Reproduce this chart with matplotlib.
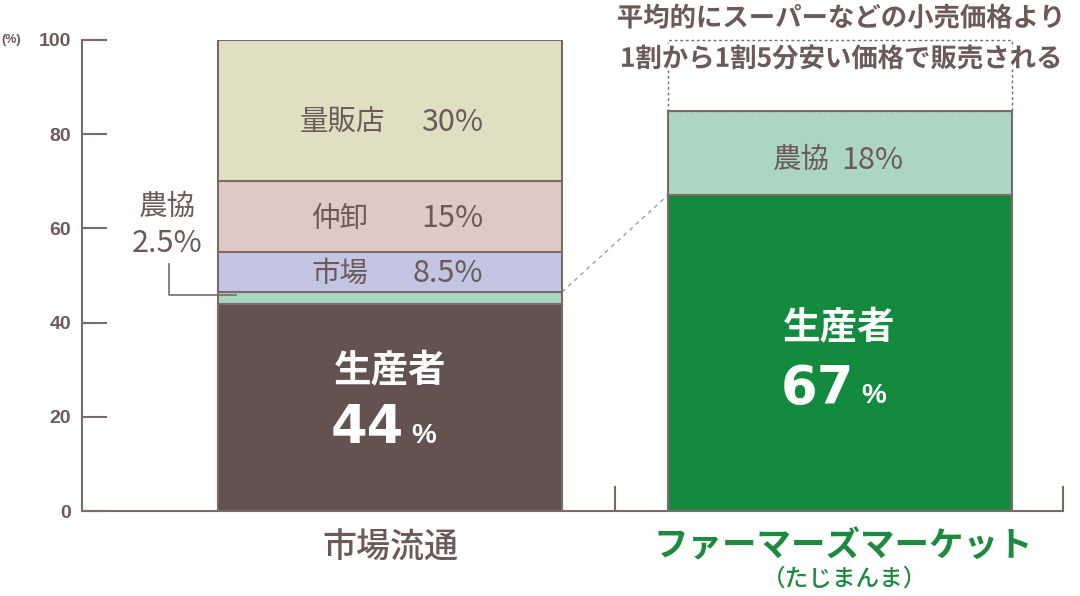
import matplotlib
matplotlib.use("Agg")
import matplotlib.pyplot as plt
import matplotlib.patheffects as pe
from matplotlib.patches import Rectangle

plt.rcParams['font.family'] = ['Noto Sans CJK JP', 'DejaVu Sans']

# ---- data ----
categories = ['市場流通', 'ファーマーズマーケット']
sub_label = '（たじまんま）'
left_names = ['生産者', '農協', '市場', '仲卸', '量販店']
left_values = [44, 2.5, 8.5, 15, 30]
right_names = ['生産者', '農協']
right_values = [67, 18]
yticks = [0, 20, 40, 60, 80, 100]
note_text = '平均的にスーパーなどの小売価格より\n1割から1割5分安い価格で販売される'

# ---- styles ----
TXT = '#6b5a58'
EDGE = '#7a6a68'
left_colors = ['#63524f', '#a8d5bf', '#c3c5e3', '#dfcac3', '#dfdfc4']
right_colors = ['#138a3e', '#acd6c1']
GREEN_TXT = '#1e8a40'
LAT = ['Liberation Sans', 'DejaVu Sans']

W, H = 1080, 596
fig = plt.figure(figsize=(W / 100, H / 100), dpi=100)
ax = fig.add_axes([82 / W, 85 / H, (1063 - 82) / W, (511 - 40) / H])
ax.set_ylim(0, 100)
xl = (-0.685, 1.497)
ax.set_xlim(*xl)
width = 0.765
xpos = [0, 1]


def stack(x, vals, cols):
    bottom = 0
    bars = []
    for v, c in zip(vals, cols):
        ax.bar(x, v, width, bottom=bottom, color=c, edgecolor=EDGE,
               linewidth=1.5, zorder=2)
        bars.append((bottom, v))
        bottom += v
    return bars


lb = stack(xpos[0], left_values, left_colors)
rb = stack(xpos[1], right_values, right_colors)

# dotted box for price-difference area on the right bar
top_r = sum(right_values)
ax.add_patch(Rectangle((xpos[1] - width / 2, top_r), width, 100 - top_r,
                       fill=False, edgecolor=EDGE, linestyle=(0, (2, 2)),
                       linewidth=1.0, zorder=3, clip_on=False))

# dashed connector from left farmer+JA top to right farmer top
ax.plot([xpos[0] + width / 2, xpos[1] - width / 2],
        [left_values[0] + left_values[1], right_values[0]],
        color='#a89c9a', linestyle=(0, (3, 3)), linewidth=1.0, zorder=1)

# spines / ticks
for s in ['top', 'right']:
    ax.spines[s].set_visible(False)
for s in ['left', 'bottom']:
    ax.spines[s].set_color(EDGE)
    ax.spines[s].set_linewidth(1.5)
ax.set_yticks(yticks)
ax.tick_params(axis='y', direction='in', length=18, width=1.5, color=EDGE,
               labelcolor=TXT, labelsize=14, pad=8)
for lab in ax.get_yticklabels():
    lab.set_fontweight('bold')
    lab.set_family(LAT)
ax.set_xticks([0.5, xl[1]])
ax.set_xticklabels([])
ax.tick_params(axis='x', direction='in', length=18, width=1.5, color=EDGE)

fig.text(1 / W, 1 - 40 / H, '(%)', fontsize=9, color=TXT, va='center',
         ha='left', fontweight='bold', family=LAT)

# labels inside left bar
name_fs = 20.5
val_fs = 22
for i in (2, 3, 4):
    b, v = lb[i]
    y = b + v / 2 - (2.5 if i == 4 else 0.4)
    nx = xpos[0] - (0.2 if i == 4 else 0.175)
    ax.text(nx, y, left_names[i], ha='left', va='center', fontsize=name_fs,
            color=TXT, zorder=4)
    ax.text(xpos[0] + 0.207, y, f'{left_values[i]:g}%', ha='right',
            va='center', fontsize=val_fs, color=TXT, zorder=4)

# 農協 2.5% callout
ax.text(-0.495, 64.5, left_names[1], ha='center', va='center',
        fontsize=name_fs, color=TXT)
ax.text(-0.495, 56.8, f'{left_values[1]:g}%', ha='center', va='center',
        fontsize=val_fs, color=TXT)
cy = left_values[0] + left_values[1] / 2 + 0.6
ax.plot([-0.492, -0.492, xpos[0] - width / 2 + 0.04], [52.5, cy, cy],
        color=EDGE, linewidth=1.2, zorder=5, clip_on=False)

# right bar JA label
b, v = rb[1]
yl = b + v / 2 - 1.5
ax.text(xpos[1] - 0.085, yl, right_names[1], ha='center', va='center',
        fontsize=name_fs, color=TXT, zorder=4)
ax.text(xpos[1] + 0.072, yl, f'{right_values[1]:g}%', ha='center',
        va='center', fontsize=val_fs, color=TXT, zorder=4)

# producer labels
for x, val, yn, yv in [(xpos[0], left_values[0], 30, 17.6),
                       (xpos[1], right_values[0], 39, 26.0)]:
    ax.text(x, yn, left_names[0], ha='center', va='center', fontsize=27,
            fontweight='bold', color='white', zorder=4)
    ax.text(x - 0.05, yv, f'{val:g}', ha='center', va='center',
            fontsize=38, fontweight='bold', color='white', zorder=4,
            family=['DejaVu Sans'])
    ax.text(x + 0.075, yv - 1.6, '%', ha='center', va='center', fontsize=20,
            fontweight='bold', color='white', zorder=4, family=LAT)

# category labels
fig.text(390 / W, 1 - 548 / H, categories[0], ha='center', va='center',
         fontsize=24.5, color=TXT, fontweight='medium')
fig.text(843 / W, 1 - 546 / H, categories[1], ha='center', va='center',
         fontsize=24.8, color=GREEN_TXT, fontweight='bold')
fig.text(845 / W, 1 - 579 / H, sub_label, ha='center', va='center',
         fontsize=17, color=GREEN_TXT, fontweight='medium')

# note text on top
fig.text(841 / W, 1 - 39 / H, note_text, ha='center', va='center',
         fontsize=19, color=TXT, fontweight='bold', linespacing=1.65,
         path_effects=[pe.withStroke(linewidth=4, foreground='white')],
         zorder=10)

fig.savefig('out.png', dpi=100)
